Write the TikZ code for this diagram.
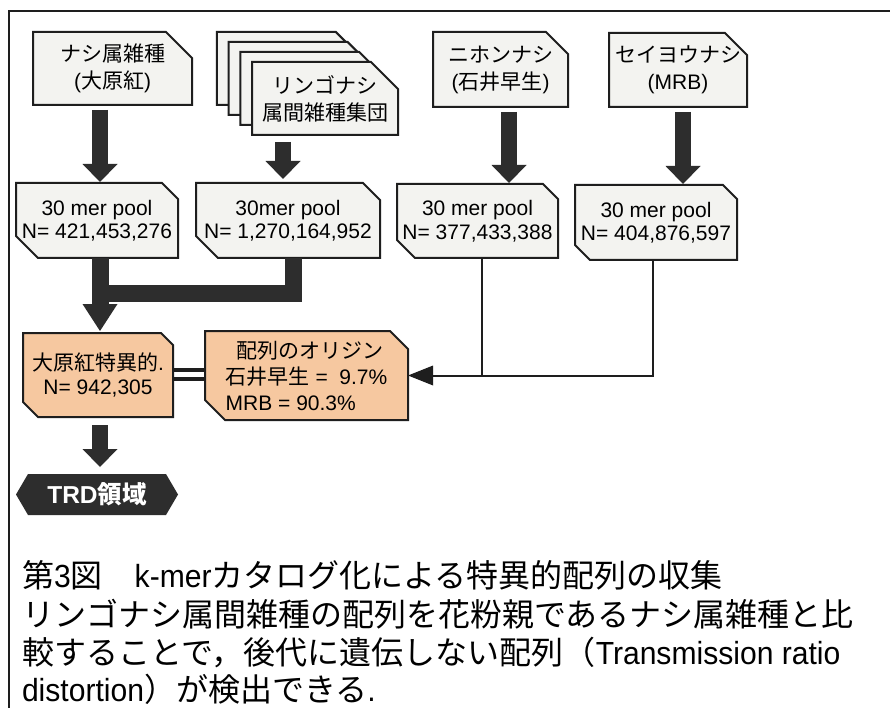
\documentclass[tikz,border=0pt]{standalone}
\usepackage{fontspec}
\setmainfont{Liberation Sans}
\newfontfamily\jp{Noto Sans CJK JP}
\newfontfamily\capLat{Liberation Sans}[FakeStretch=0.94]
\usetikzlibrary{arrows.meta,backgrounds}
\definecolor{ink}{HTML}{1E1E1E}
\definecolor{dark}{HTML}{2D2D2D}
\definecolor{boxfill}{HTML}{F3F3F0}
\definecolor{peach}{HTML}{F6C8A0}
\newcommand\cjk[1]{{\jp #1}}
\newcommand\cutTR[3][boxfill]{%
  \filldraw[fill=#1,draw=ink,line width=2pt,line join=miter] (#2.north west) -- ([xshift=-#3pt]#2.north east) -- ([yshift=-#3pt]#2.north east) -- (#2.south east) -- (#2.south west) -- cycle;}
\newcommand\cutTRBL[4][boxfill]{%
  \filldraw[fill=#1,draw=ink,line width=2pt,line join=miter] (#2.north west) -- ([xshift=-#3pt]#2.north east) -- ([yshift=-#3pt]#2.north east) -- (#2.south east) -- ([xshift=#4pt]#2.south west) -- ([yshift=#4pt]#2.south west) -- cycle;}
\tikzset{
  shp/.style={inner sep=0pt, outer sep=0pt, align=center},
  topbox/.style={shp, font=\fontsize{21}{27}\selectfont},
  poolbox/.style={shp, font=\fontsize{21}{23.5}\selectfont},
  bigarrow/.style={draw=dark, line width=16pt, -{Triangle[width=35pt,length=18pt,line width=0pt]}},
  thinln/.style={draw=ink, line width=2pt},
  captxt/.style={inner sep=0pt, outer sep=0pt, anchor=base west, font=\fontsize{32}{38}\selectfont\capLat}
}
\begin{document}
\begin{tikzpicture}[x=1pt,y=-1pt]
\useasboundingbox (0,0) rectangle (890,708);
\draw[line width=2pt, ink] (9,708) -- (9,11) -- (890,11);

% source boxes
\node[topbox, minimum width=159pt, minimum height=73pt] (b1) at (112.5,68.5) {\cjk{ナシ属雑種}\\(\cjk{大原紅})};
\node[topbox, minimum width=146pt, minimum height=73pt] (b2c) at (289.9,68.5) {};
\node[topbox, minimum width=146pt, minimum height=73pt] (b2b) at (301.6,78.5) {};
\node[topbox, minimum width=146pt, minimum height=73pt] (b2a) at (313.3,88.5) {};
\node[topbox, minimum width=146pt, minimum height=73pt] (b2) at (325,98.5) {\cjk{リンゴナシ}\\\cjk{属間雑種集団}};
\node[topbox, minimum width=135pt, minimum height=75pt] (b3) at (500.5,69.5) {\cjk{ニホンナシ}\\(\cjk{石井早生})};
\node[topbox, minimum width=138pt, minimum height=74pt] (b4) at (678,70) {\cjk{セイヨウナシ}\\(MRB)};

% pools
\node[poolbox, minimum width=162pt, minimum height=75pt] (p1) at (97,220.5) {30 mer pool\\N= 421,453,276};
\node[poolbox, minimum width=184pt, minimum height=75pt] (p2) at (288,220.5) {30mer pool\\N= 1,270,164,952};
\node[poolbox, minimum width=161pt, minimum height=74pt] (p3) at (477.5,221) {30 mer pool\\N= 377,433,388};
\node[poolbox, minimum width=162pt, minimum height=75pt] (p4) at (656,222.5) {30 mer pool\\N= 404,876,597};

% results
\node[shp, font=\fontsize{21}{24}\selectfont, minimum width=150pt, minimum height=84pt] (o1) at (98,375) {\cjk{大原紅特異的}.\\N= 942,305};
\node[shp, align=left, font=\fontsize{21}{26}\selectfont, minimum width=203pt, minimum height=89pt] (o2) at (306.5,375.5) {\hspace{11pt}\cjk{配列のオリジン}\\\cjk{石井早生} =\ \ 9.7\%\\MRB = 90.3\%};
\node[shp, minimum width=162pt, minimum height=41pt, text=white, font=\fontsize{24.5}{27}\selectfont\bfseries] (trd) at (97,494.5) {TRD{\jp\bfseries 領域}};

\begin{scope}[on background layer]
\fill[white] (0,0) rectangle (890,708);
\cutTR{b1}{26}
\cutTR{b2c}{27}
\cutTR{b2b}{27}
\cutTR{b2a}{27}
\cutTR{b2}{27}
\cutTR{b3}{22}
\cutTR{b4}{22}
\cutTRBL{p1}{16}{22}
\cutTRBL{p2}{17}{22}
\cutTRBL{p3}{15}{18}
\cutTRBL{p4}{14}{15}
\cutTRBL[peach]{o1}{12}{15}
\cutTRBL[peach]{o2}{18}{20}
\fill[dark] (trd.west) -- ([xshift=12pt]trd.north west) -- ([xshift=-12pt]trd.north east) -- (trd.east) -- ([xshift=-12pt]trd.south east) -- ([xshift=12pt]trd.south west) -- cycle;
\end{scope}

\coordinate (x1) at (100,0);
\coordinate (x2) at (283,0);
\coordinate (x2m) at (293,0);
\coordinate (x3) at (509,0);
\coordinate (x4) at (683,0);
\coordinate (x3t) at (482,0);
\coordinate (x4t) at (653,0);

% thick arrows
\draw[bigarrow, shorten <=5pt, shorten >=1pt] (b1.south -| x1) -- (p1.north -| x1);
\draw[bigarrow, shorten <=7pt, shorten >=4pt] (b2.south -| x2) -- (p2.north -| x2);
\draw[bigarrow, shorten <=5pt, shorten >=1pt] (b3.south -| x3) -- (p3.north -| x3);
\draw[bigarrow, shorten <=5pt, shorten >=1pt] (b4.south -| x4) -- (p4.north -| x4);
\draw[draw=dark, line width=17pt, line join=miter] (p2.south -| x2m) |- (100,293);
\draw[draw=dark, line width=17pt, -{Triangle[width=35pt,length=27pt,line width=0pt]}, shorten >=2pt] (p1.south -| x1) -- (o1.north -| x1);
\draw[bigarrow, shorten <=8pt, shorten >=7pt] (o1.south -| x1) -- (trd.north -| x1);

% double line
\draw[ink, line width=3.5pt] ([yshift=5pt]o1.east) -- ([yshift=5pt]o1.east -| o2.west);
\draw[ink, line width=3.5pt] ([yshift=-4pt]o1.east) -- ([yshift=-4pt]o1.east -| o2.west);

% thin connectors
\draw[thinln] (p4.south -| x4t) |- (o2.east -| x3t);
\draw[thinln, -{Triangle[width=20pt,length=25pt,line width=0pt]}] (p3.south -| x3t) |- (o2.east);

% caption
\node[captxt] (c1) at (22,587) {\cjk{第}3\cjk{図　}k-mer\cjk{カタログ化による特異的配列の収集}};
\node[captxt] (c2) at (22,626) {\cjk{リンゴナシ属間雑種の配列を花粉親であるナシ属雑種と比}};
\node[captxt] (c3) at (22,664) {\cjk{較することで，後代に遺伝しない配列（}Transmission ratio};
\node[captxt] (c4) at (22,701) {distortion\cjk{）が検出できる}.};
\end{tikzpicture}
\end{document}
